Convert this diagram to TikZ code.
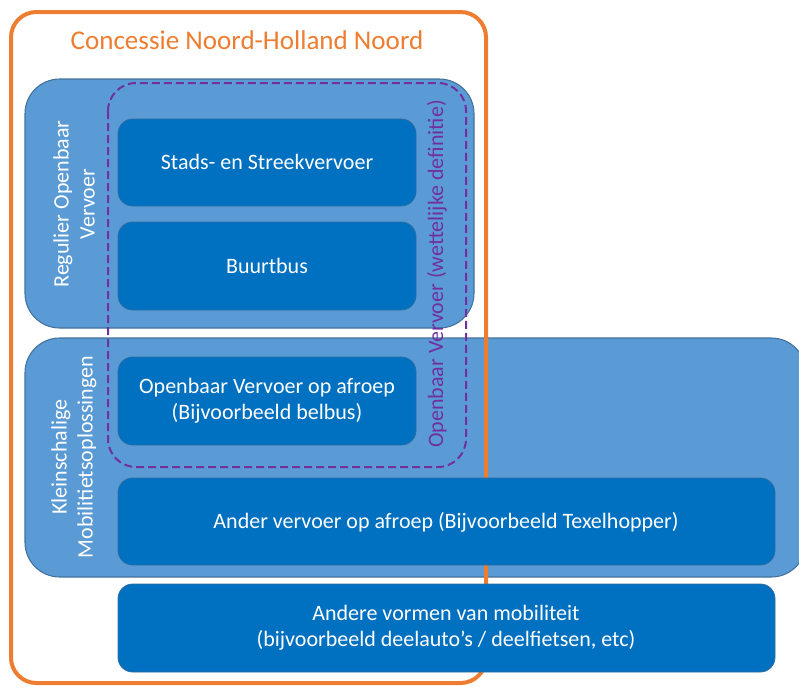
\documentclass[tikz,border=0pt]{standalone}
\usepackage{fontspec}
\setmainfont{Carlito}

\definecolor{lichtblauw}{HTML}{5B9BD5}
\definecolor{lichtrand}{HTML}{41719C}
\definecolor{donkerblauw}{HTML}{0070C0}
\definecolor{donkerrand}{HTML}{2E6DA4}
\definecolor{oranje}{HTML}{ED7D31}
\definecolor{paars}{HTML}{7030A0}

\tikzset{
    groep/.style={fill=lichtblauw, draw=lichtrand, line width=0.8pt, rounded corners=26pt},
    vak/.style={fill=donkerblauw, draw=donkerrand, line width=0.6pt, rounded corners=11pt},
    wittetekst/.style={text=white, align=center, font=\fontsize{16.5}{19.5}\selectfont},
}

\begin{document}
\begin{tikzpicture}[x=0.75pt, y=-0.75pt]
        \useasboundingbox (0, 0) rectangle (799, 686);
        \clip (0, 0) rectangle (799, 686);

        % groepen
        \draw[groep] (25, 79) rectangle (474, 328);
        \draw[groep] (25, 338) rectangle (806, 577);

        % concessie
        \draw[oranje, line width=3pt, rounded corners=19pt] (11, 12) rectangle (486, 683);
        \node[text=oranje, font=\fontsize{20.3}{24}\selectfont] (titel) at (247, 40) {Concessie Noord-Holland Noord};

        % wettelijke definitie
        \draw[paars, line width=1.5pt, dash pattern=on 6pt off 3pt, rounded corners=21pt] (108, 83) rectangle (466, 467);
        \node[text=paars, rotate=90, font=\fontsize{16.5}{19.5}\selectfont] (wettelijk) at (437, 274) {Openbaar Vervoer (wettelijke definitie)};

        % vervoersvormen
        \draw[vak] (118, 119) rectangle (416, 206);
        \node[wittetekst] (streek) at (267, 162) {Stads- en Streekvervoer};
        \draw[vak] (118, 222) rectangle (416, 310);
        \node[wittetekst] (buurtbus) at (267, 266) {Buurtbus};
        \draw[vak] (118, 357) rectangle (416, 445);
        \node[wittetekst] (belbus) at (267, 401) {Openbaar Vervoer op afroep\\(Bijvoorbeeld belbus)};
        \draw[vak] (118, 478) rectangle (775, 565);
        \node[wittetekst] (texelhopper) at (446, 522) {Ander vervoer op afroep (Bijvoorbeeld Texelhopper)};
        \draw[vak] (118, 584) rectangle (775, 672);
        \node[wittetekst] (mobiliteit) at (446, 628) {Andere vormen van mobiliteit\\(bijvoorbeeld deelauto’s / deelfietsen, etc)};

        % groepnamen
        \node[wittetekst, rotate=90] (regulier) at (74, 204) {Regulier Openbaar\\Vervoer};
        \node[wittetekst, rotate=90] (kleinschalig) at (74, 457) {Kleinschalige\\Mobilitietsoplossingen};
    \end{tikzpicture}
\end{document}
